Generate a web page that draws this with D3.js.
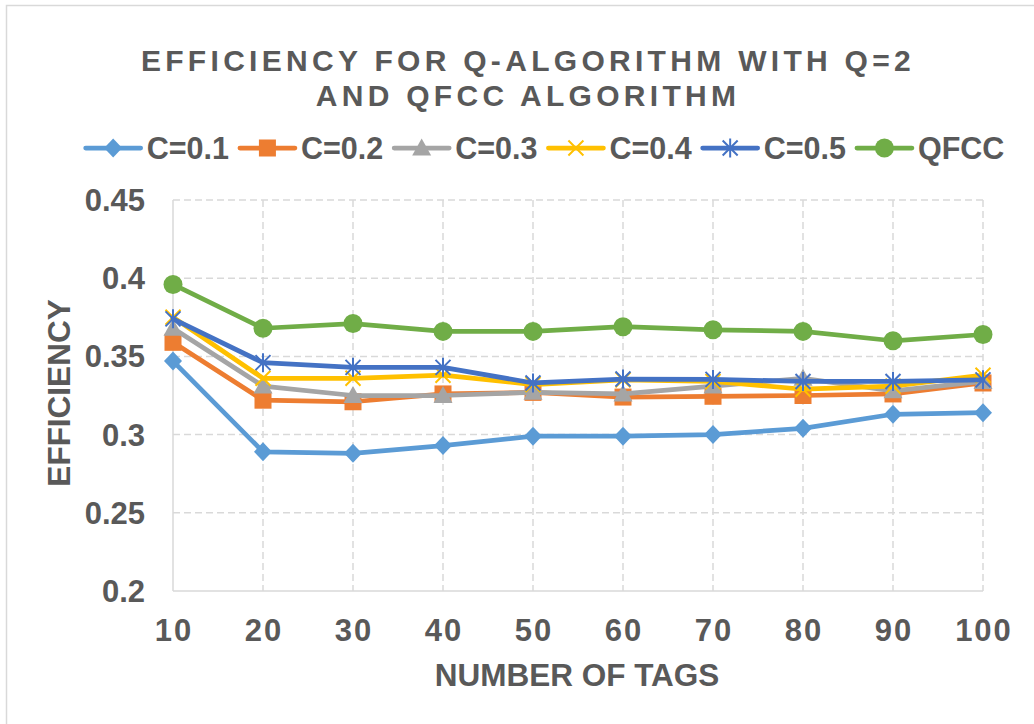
<!DOCTYPE html>
<html>
<head>
<meta charset="utf-8">
<script src="https://cdn.jsdelivr.net/npm/d3@7"></script>
<style>
  body { margin: 0; background: #fff; }
  text { font-family: "Liberation Sans", Arial, sans-serif; font-weight: bold; fill: #595959; }
</style>
</head>
<body>
<div id="container"></div>
<script>
// Data
const tags = [10, 20, 30, 40, 50, 60, 70, 80, 90, 100];
const c01 = [0.347, 0.289, 0.288, 0.293, 0.299, 0.299, 0.300, 0.304, 0.313, 0.314];
const c02 = [0.359, 0.322, 0.321, 0.326, 0.327, 0.324, 0.3245, 0.325, 0.326, 0.333];
const c03 = [0.368, 0.331, 0.325, 0.325, 0.327, 0.326, 0.331, 0.336, 0.328, 0.334];
const c04 = [0.375, 0.336, 0.336, 0.338, 0.332, 0.335, 0.334, 0.329, 0.331, 0.338];
const c05 = [0.374, 0.346, 0.343, 0.343, 0.333, 0.3355, 0.3353, 0.334, 0.334, 0.335];
const qfcc = [0.396, 0.368, 0.371, 0.366, 0.366, 0.369, 0.367, 0.366, 0.360, 0.364];
const yTicks = [0.2, 0.25, 0.3, 0.35, 0.4, 0.45];
const seriesNames = ["C=0.1", "C=0.2", "C=0.3", "C=0.4", "C=0.5", "QFCC"];

const series = [
  { name: seriesNames[0], values: c01, color: "#5b9bd5", marker: "diamond" },
  { name: seriesNames[1], values: c02, color: "#ed7d31", marker: "square" },
  { name: seriesNames[2], values: c03, color: "#a5a5a5", marker: "triangle" },
  { name: seriesNames[3], values: c04, color: "#ffc000", marker: "x" },
  { name: seriesNames[4], values: c05, color: "#4472c4", marker: "star" },
  { name: seriesNames[5], values: qfcc, color: "#70ad47", marker: "circle" }
];

const w = 1034;
const h = 724;
const plotLeft = 173, plotRight = 983, plotTop = 200, plotBottom = 591;

const xScale = d3.scaleLinear().domain([10, 100]).range([plotLeft, plotRight]);
const yScale = d3.scaleLinear().domain([0.2, 0.45]).range([plotBottom, plotTop]);

let svg = d3.select("#container").append("svg").attr("width", w).attr("height", h);

// chart border
svg.append("rect")
  .attr("x", 6.5).attr("y", 5.5)
  .attr("width", 1040).attr("height", 740)
  .attr("fill", "none").attr("stroke", "#d9d9d9").attr("stroke-width", 1.5);

// Title
const title = svg.append("text")
  .attr("text-anchor", "middle")
  .style("font-size", "30px")
  .style("letter-spacing", "4.3px");
title.append("tspan").attr("x", 528).attr("y", 71).text("EFFICIENCY FOR Q-ALGORITHM WITH Q=2");
title.append("tspan").attr("x", 528).attr("y", 106).text("AND QFCC ALGORITHM");

// Grid
svg.append("g")
  .selectAll("line")
  .data(yTicks.slice(1))
  .enter()
  .append("line")
  .attr("x1", plotLeft).attr("x2", plotRight)
  .attr("y1", (d) => yScale(d)).attr("y2", (d) => yScale(d))
  .attr("stroke", "#d9d9d9").attr("stroke-width", 1.5)
  .attr("stroke-dasharray", "7,4");

svg.append("g")
  .selectAll("line")
  .data(tags.slice(1))
  .enter()
  .append("line")
  .attr("x1", (d) => xScale(d)).attr("x2", (d) => xScale(d))
  .attr("y1", plotTop).attr("y2", plotBottom)
  .attr("stroke", "#d9d9d9").attr("stroke-width", 1.5)
  .attr("stroke-dasharray", "7,4");

// Axes lines
svg.append("line")
  .attr("x1", plotLeft).attr("x2", plotRight).attr("y1", plotBottom).attr("y2", plotBottom)
  .attr("stroke", "#d9d9d9").attr("stroke-width", 1.5);
svg.append("line")
  .attr("x1", plotLeft).attr("x2", plotLeft).attr("y1", plotTop).attr("y2", plotBottom)
  .attr("stroke", "#d9d9d9").attr("stroke-width", 1.5);

// Tick labels
svg.append("g")
  .selectAll("text")
  .data(yTicks)
  .enter()
  .append("text")
  .attr("x", 145)
  .attr("y", (d) => yScale(d) + 11)
  .attr("text-anchor", "end")
  .style("font-size", "31px")
  .text((d) => String(d));

svg.append("g")
  .selectAll("text")
  .data(tags)
  .enter()
  .append("text")
  .attr("x", (d) => xScale(d) + 1)
  .attr("y", 641)
  .attr("text-anchor", "middle")
  .style("font-size", "31px")
  .style("letter-spacing", "2px")
  .text((d) => String(d));

// Axis titles
svg.append("text")
  .attr("x", 577).attr("y", 686)
  .attr("text-anchor", "middle")
  .style("font-size", "31.5px")
  .text("NUMBER OF TAGS");

svg.append("text")
  .attr("transform", "translate(70, 393) rotate(-90)")
  .attr("text-anchor", "middle")
  .style("font-size", "31.5px")
  .text("EFFICIENCY");

// Markers
function drawMarker(g, type, color) {
  if (type === "diamond") {
    g.append("path").attr("d", "M0,-9.5L9,0L0,9.5L-9,0Z").attr("fill", color);
  } else if (type === "square") {
    g.append("rect").attr("x", -8.5).attr("y", -8.5).attr("width", 17).attr("height", 17).attr("fill", color);
  } else if (type === "triangle") {
    g.append("path").attr("d", "M0,-9.5L9.5,7.5L-9.5,7.5Z").attr("fill", color);
  } else if (type === "circle") {
    g.append("circle").attr("r", 9.5).attr("fill", color);
  } else {
    g.append("path").attr("d", "M-7.5,-7.5L7.5,7.5M-7.5,7.5L7.5,-7.5")
      .attr("stroke", color).attr("stroke-width", 2).attr("fill", "none");
    if (type === "star") {
      g.append("path").attr("d", "M0,-9.5L0,9.5")
        .attr("stroke", color).attr("stroke-width", 2);
    }
  }
}

const line = d3.line()
  .x((d, i) => xScale(tags[i]))
  .y((d) => yScale(d));

series.forEach((s) => {
  const g = svg.append("g");
  g.append("path")
    .attr("d", line(s.values))
    .attr("fill", "none")
    .attr("stroke", s.color)
    .attr("stroke-width", 4.75)
    .attr("stroke-linejoin", "round")
    .attr("stroke-linecap", "round");
  s.values.forEach((v, i) => {
    const m = g.append("g").attr("transform", "translate(" + xScale(tags[i]) + "," + yScale(v) + ")");
    drawMarker(m, s.marker, s.color);
  });
});

// Legend
const legend = svg.append("g");
let lx = 0;
series.forEach((s) => {
  const item = legend.append("g").attr("transform", "translate(" + lx + ",0)");
  item.append("line")
    .attr("x1", 0).attr("x2", 55).attr("y1", 0).attr("y2", 0)
    .attr("stroke", s.color).attr("stroke-width", 4.75).attr("stroke-linecap", "round");
  const m = item.append("g").attr("transform", "translate(27.5,0)");
  drawMarker(m, s.marker, s.color);
  const t = item.append("text")
    .attr("x", 61).attr("y", 11)
    .style("font-size", "30.5px")
    .text(s.name);
  lx += 61 + t.node().getComputedTextLength() + 11;
});
lx -= 11;
legend.attr("transform", "translate(" + (545 - lx / 2) + ",148)");
</script>
</body>
</html>
